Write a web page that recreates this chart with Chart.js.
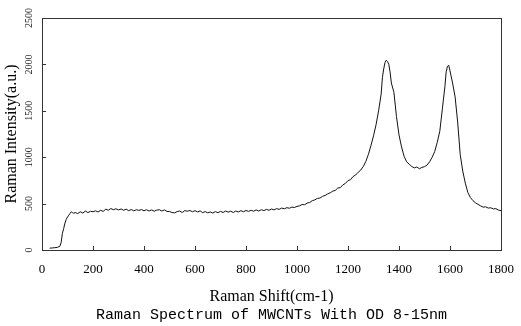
<!DOCTYPE html>
<html>
<head>
<meta charset="utf-8">
<script src="https://cdn.jsdelivr.net/npm/chart.js@4"></script>
<style>
html,body{margin:0;padding:0;background:#fff;}
#wrap{width:521px;height:326px;}
</style>
</head>
<body>
<div id="wrap"><canvas id="c" width="521" height="326"></canvas></div>
<script>
const shifts = [30,40,50,60,70,75,80,85,90,95,100,105,110,115,120,125,130,140,150,160,170,180,190,200,210,220,230,240,250,260,270,280,290,300,310,320,330,340,350,360,370,380,390,400,410,420,430,440,450,460,470,480,490,500,510,520,530,540,550,560,570,580,590,600,610,620,630,640,650,660,670,680,690,700,710,720,730,740,750,760,770,780,790,800,810,820,830,840,850,860,870,880,890,900,910,920,930,940,950,960,970,980,990,1000,1010,1020,1030,1040,1050,1060,1070,1080,1090,1100,1110,1120,1130,1140,1150,1160,1170,1180,1190,1200,1210,1220,1230,1240,1250,1260,1270,1280,1290,1300,1310,1320,1330,1335,1340,1345,1350,1355,1360,1365,1370,1380,1390,1400,1410,1420,1430,1440,1450,1460,1470,1480,1490,1500,1510,1520,1530,1540,1550,1560,1570,1580,1585,1590,1595,1600,1610,1620,1630,1640,1650,1660,1670,1680,1690,1700,1710,1720,1730,1740,1750,1760,1770,1780,1790,1800];
const intensity = [20,22,25,28,40,80,180,230,290,330,355,375,395,412,402,396,404,392,412,398,420,403,417,412,422,410,428,416,440,428,447,434,444,432,442,428,440,424,436,422,434,426,436,422,434,420,432,418,430,434,420,432,416,414,404,400,414,420,404,424,418,426,412,424,410,422,402,414,400,410,398,414,402,416,404,420,408,418,404,420,410,424,412,426,416,428,418,432,420,434,424,438,428,442,432,446,438,452,444,456,450,462,458,470,476,490,488,506,512,532,540,556,560,578,588,604,616,634,642,668,672,702,718,748,758,792,808,838,862,900,955,1030,1125,1230,1350,1500,1680,1860,1950,2020,2045,2030,2000,1920,1800,1700,1440,1240,1110,1010,950,925,900,885,895,875,890,898,915,950,1000,1060,1160,1280,1520,1760,1920,1980,1990,1930,1800,1650,1380,1030,850,720,620,565,532,508,492,475,462,465,452,455,442,446,430,424,410];
const xTicks = [0,200,400,600,800,1000,1200,1400,1600,1800];
const yTicks = [0,500,1000,1500,2000,2500];
const xTitle = 'Raman Shift(cm-1)';
const yTitle = 'Raman Intensity(a.u.)';
const chartTitle = 'Raman Spectrum of MWCNTs With OD 8-15nm';

const points = shifts.map((s, i) => ({x: s, y: intensity[i]}));

const frame = {
  id: 'frame',
  afterDraw(chart) {
    const {ctx, chartArea: a, scales} = chart;
    ctx.save();
    ctx.strokeStyle = '#333';
    ctx.lineWidth = 1;
    ctx.strokeRect(Math.round(a.left) + 0.5, Math.round(a.top) + 0.5, Math.round(a.right - a.left), Math.round(a.bottom - a.top));
    ctx.beginPath();
    scales.x.ticks.forEach(t => {
      const px = Math.round(scales.x.getPixelForValue(t.value)) + 0.5;
      ctx.moveTo(px, a.bottom);
      ctx.lineTo(px, a.bottom - 4);
    });
    scales.y.ticks.forEach(t => {
      const py = Math.round(scales.y.getPixelForValue(t.value)) + 0.5;
      ctx.moveTo(a.left, py);
      ctx.lineTo(a.left + 4, py);
    });
    ctx.stroke();
    ctx.restore();
  }
};

new Chart(document.getElementById('c'), {
  type: 'line',
  data: {
    datasets: [{
      data: points,
      borderColor: '#111',
      borderWidth: 1,
      pointRadius: 0,
      tension: 0,
      fill: false
    }]
  },
  options: {
    responsive: false,
    animation: false,
    layout: {padding: {top: 18, right: 20, left: 0, bottom: 0}},
    plugins: {
      legend: {display: false},
      tooltip: {enabled: false},
      title: {
        display: true,
        text: chartTitle,
        position: 'bottom',
        fullSize: false,
        align: 'center',
        color: '#000',
        font: {family: 'Liberation Mono', size: 15, weight: 'normal', lineHeight: 1.2},
        padding: {top: 0, bottom: 2}
      }
    },
    scales: {
      x: {
        type: 'linear',
        min: 0, max: 1800,
        afterBuildTicks(s) { s.ticks = xTicks.map(v => ({value: v})); },
        afterFit(s) { s.height = 56; s.paddingLeft = 0; s.paddingRight = 0; },
        grid: {display: false, drawTicks: false},
        border: {display: false},
        ticks: {padding: 12, color: '#000', font: {family: 'Liberation Serif', size: 13}, maxRotation: 0, callback: v => String(v)},
        title: {display: true, text: xTitle, color: '#000', font: {family: 'Liberation Serif', size: 16}, padding: {top: 0, bottom: 0}}
      },
      y: {
        min: 0, max: 2500,
        afterBuildTicks(s) { s.ticks = yTicks.map(v => ({value: v})); },
        afterFit(s) { s.width = 42; s.paddingTop = 0; s.paddingBottom = 0; },
        grid: {display: false, drawTicks: false},
        border: {display: false},
        ticks: {padding: 3, color: '#222', crossAlign: 'center', minRotation: 90, maxRotation: 90, font: {family: 'Liberation Serif', size: 10}, callback: v => String(v)},
        title: {display: true, text: yTitle, color: '#000', font: {family: 'Liberation Serif', size: 16}, padding: {top: 2, bottom: 0}}
      }
    }
  },
  plugins: [frame]
});
</script>
</body>
</html>
